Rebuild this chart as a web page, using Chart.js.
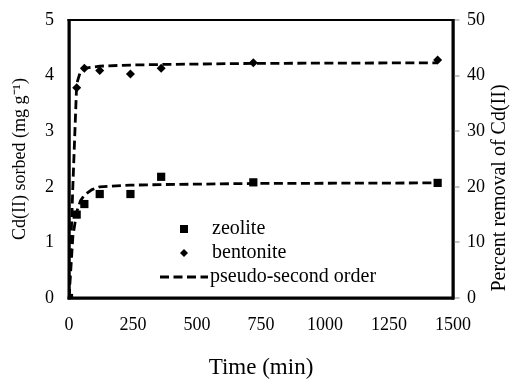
<!DOCTYPE html>
<html>
<head>
<meta charset="utf-8">
<script src="https://cdn.jsdelivr.net/npm/chart.js@4.4.1/dist/chart.umd.min.js"></script>
<style>
  html, body { margin: 0; padding: 0; background: #fff; }
  #wrap { width: 518px; height: 385px; }
</style>
</head>
<body>
<div id="wrap"><canvas id="chart"></canvas></div>
<script>
// measured points
const timeMin = [0, 30, 60, 120, 240, 360, 720, 1440];
const zeolite = [0, 1.5, 1.69, 1.87, 1.87, 2.18, 2.08, 2.07];
const bentonite = [0, 3.78, 4.13, 4.09, 4.03, 4.13, 4.23, 4.28];

// pseudo-second order curves
const fitTime = [0, 15, 30, 45, 60, 90, 120, 240, 360, 720, 1440];
const zeoliteFit = [0, 1.1, 1.55, 1.75, 1.85, 1.95, 2.0, 2.03, 2.04, 2.06, 2.07];
const bentoniteFit = [0, 2.0, 3.85, 4.08, 4.13, 4.15, 4.17, 4.19, 4.2, 4.22, 4.23];

// tick labels
const xTicks = [0, 250, 500, 750, 1000, 1250, 1500];
const leftTicks = [0, 1, 2, 3, 4, 5];
const rightTicks = [0, 10, 20, 30, 40, 50];

const FONT = "'Liberation Serif', 'Times New Roman', serif";

function pairs(xs, ys) {
  return xs.map((x, i) => ({ x: x, y: ys[i] }));
}

function fixTicks(list) {
  return function (scale) {
    scale.ticks = list.map(v => ({ value: v }));
  };
}

const plain = v => String(v);

// plot top sits at 20px like the original
const pinTop = {
  id: "pinTop",
  afterLayout(chart) {
    const top = 20;
    ["y", "y2"].forEach(id => {
      const s = chart.scales[id];
      s.top = top;
      s.height = s.bottom - top;
      s.configure();
    });
    const a = chart.chartArea;
    a.top = top;
    a.height = a.bottom - top;
  }
};

// box round the plot area, placed from the scales themselves
const frame = {
  id: "plotFrame",
  afterDraw(chart) {
    const xs = chart.scales.x, ys = chart.scales.y, y2 = chart.scales.y2;
    const l = xs.getPixelForValue(0), r = xs.getPixelForValue(1500);
    const t = ys.getPixelForValue(5), b = ys.getPixelForValue(0);
    const c = chart.ctx;
    c.save();
    c.setLineDash([]);
    c.fillStyle = "#000";
    c.fillRect(l - 1.5, t - 1, r - l + 3, 2);
    c.fillRect(l - 1.5, b - 1.5, r - l + 3, 3);
    c.fillRect(l - 1.5, t - 1, 3, b - t + 2.5);
    c.fillRect(r - 1.5, t - 1, 3, b - t + 2.5);
    // small outward ticks on the right axis
    c.fillStyle = "#888";
    rightTicks.forEach(v => {
      c.fillRect(r + 1.5, Math.round(y2.getPixelForValue(v)) - 0.5, 5, 1);
    });
    c.restore();
  }
};

// right title reads bottom-to-top
const rightTitle = {
  id: "rightTitle",
  afterDraw(chart) {
    const c = chart.ctx;
    c.save();
    c.translate(500, 188);
    c.rotate(-Math.PI / 2);
    c.font = "20px " + FONT;
    c.fillStyle = "#000";
    c.textAlign = "center";
    c.textBaseline = "middle";
    c.fillText("Percent removal of Cd(II)", 0, 0);
    c.restore();
  }
};

// legend sits inside the plot
const innerLegend = {
  id: "innerLegend",
  afterDraw(chart) {
    const c = chart.ctx;
    const x0 = 184, y0 = 229, row = 24, tx = 212;
    c.save();
    c.font = "20px " + FONT;
    c.fillStyle = "#000";
    c.textBaseline = "middle";
    c.fillRect(x0 - 4, y0 - 4, 8, 8);
    c.fillText("zeolite", tx, y0);
    c.beginPath();
    c.moveTo(x0, y0 + row - 4);
    c.lineTo(x0 + 4, y0 + row);
    c.lineTo(x0, y0 + row + 4);
    c.lineTo(x0 - 4, y0 + row);
    c.closePath();
    c.fill();
    c.fillText("bentonite", tx, y0 + row);
    c.strokeStyle = "#000";
    c.lineWidth = 2.8;
    c.setLineDash([9, 4.5]);
    c.beginPath();
    c.moveTo(160, y0 + 2 * row);
    c.lineTo(208, y0 + 2 * row);
    c.stroke();
    c.setLineDash([]);
    c.fillText("pseudo-second order", tx - 2, y0 + 2 * row);
    c.restore();
  }
};

const ctx = document.getElementById("chart").getContext("2d");

new Chart(ctx, {
  type: "scatter",
  data: {
    datasets: [
      {
        label: "zeolite",
        data: pairs(timeMin, zeolite),
        pointStyle: "rect",
        pointRadius: 5.8,
        backgroundColor: "#000",
        borderColor: "#000",
        borderWidth: 0
      },
      {
        label: "bentonite",
        data: pairs(timeMin, bentonite),
        pointStyle: "rectRot",
        pointRadius: 4.5,
        backgroundColor: "#000",
        borderColor: "#000",
        borderWidth: 0
      },
      {
        label: "pseudo-second order",
        data: pairs(fitTime, zeoliteFit),
        showLine: true,
        pointRadius: 0,
        borderColor: "#000",
        borderWidth: 2.8,
        borderDash: [9, 4.5]
      },
      {
        label: "pseudo-second order",
        data: pairs(fitTime, bentoniteFit),
        showLine: true,
        pointRadius: 0,
        borderColor: "#000",
        borderWidth: 2.8,
        borderDash: [9, 4.5]
      }
    ]
  },
  options: {
    responsive: true,
    maintainAspectRatio: false,
    animation: false,
    layout: { padding: { top: 9.2, left: 0, right: 0, bottom: 0 } },
    plugins: {
      legend: { display: false },
      tooltip: { enabled: false }
    },
    scales: {
      x: {
        type: "linear",
        min: 0,
        max: 1500,
        afterBuildTicks: fixTicks(xTicks),
        afterFit(scale) { scale.height = 87; },
        grid: { display: false, drawTicks: false },
        border: { display: true, color: "#000", width: 2.5 },
        ticks: {
          color: "#000",
          padding: 16,
          maxRotation: 0,
          callback: plain,
          font: { family: FONT, size: 18 }
        },
        title: {
          display: true,
          text: "Time (min)",
          color: "#000",
          padding: 3,
          font: { family: FONT, size: 23 }
        }
      },
      y: {
        type: "linear",
        position: "left",
        min: 0,
        max: 5,
        afterBuildTicks: fixTicks(leftTicks),
        afterFit(scale) { scale.width = 69; },
        grid: { display: false, drawTicks: false },
        border: { display: true, color: "#000", width: 2.5 },
        ticks: {
          color: "#000",
          padding: 15,
          callback: plain,
          font: { family: FONT, size: 18 }
        },
        title: {
          display: true,
          text: "Cd(II) sorbed (mg g\u207B\u00B9)",
          color: "#000",
          padding: { top: 9, bottom: 0 },
          font: { family: FONT, size: 18 }
        }
      },
      y2: {
        type: "linear",
        position: "right",
        min: 0,
        max: 50,
        afterBuildTicks: fixTicks(rightTicks),
        afterFit(scale) { scale.width = 65; },
        grid: { display: false, drawTicks: false },
        border: { display: true, color: "#000", width: 2.5 },
        ticks: {
          color: "#000",
          padding: 14,
          callback: plain,
          font: { family: FONT, size: 18 }
        }
      }
    }
  },
  plugins: [pinTop, frame, rightTitle, innerLegend]
});
</script>
</body>
</html>
